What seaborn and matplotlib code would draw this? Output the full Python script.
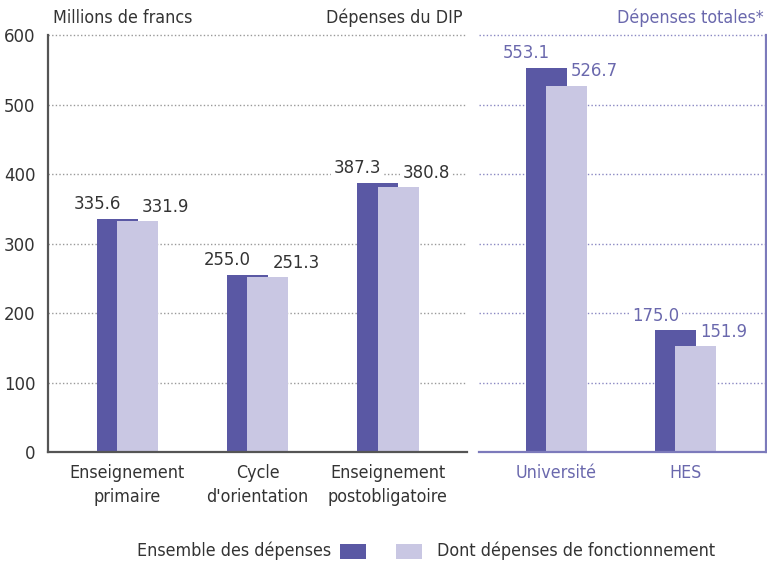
import numpy as np
import pandas as pd
import matplotlib
matplotlib.use("Agg")
import matplotlib.pyplot as plt
import seaborn as sns
from matplotlib.patches import Rectangle

# ---- data ----
cats_dip = ["Enseignement\nprimaire", "Cycle\nd'orientation", "Enseignement\npostobligatoire"]
total_dip = [335.6, 255.0, 387.3]
fonct_dip = [331.9, 251.3, 380.8]

cats_tot = ["Université", "HES"]
total_tot = [553.1, 175.0]
fonct_tot = [526.7, 151.9]

yticks = [0, 100, 200, 300, 400, 500, 600]

# ---- style ----
sns.set_theme(style="white")
FONT = ["DejaVu Sans"]
plt.rcParams["font.family"] = FONT
plt.rcParams["font.stretch"] = "condensed"

DARK = "#5a58a4"
LIGHT = "#c9c7e3"
GREY_TXT = "#333333"
PURP_TXT = "#6a68ad"
PURP_LINE = "#7c7abb"

FS = 12.8

W, H = 767, 564
fig = plt.figure(figsize=(W / 100, H / 100), dpi=100)

YMAX = 605
px_per_unit = (452 - 35) / 600.0
top_px = 452 - YMAX * px_per_unit

def axrect(x0, x1):
    return [x0 / W, 1 - 452 / H, (x1 - x0) / W, (452 - top_px) / H]

ax1 = fig.add_axes(axrect(48, 467))
ax2 = fig.add_axes(axrect(479, 766))

BW = 0.315
OFF_D = -0.077
OFF_L = 0.08

def draw(ax, cats, tot, fon, xlim, txtcol, gridcol, spinecol):
    n = len(cats)
    sns.barplot(x=cats, y=tot, color=DARK, width=BW, saturation=1, ax=ax,
                linewidth=0, errorbar=None)
    sns.barplot(x=cats, y=fon, color=LIGHT, width=BW, saturation=1, ax=ax,
                linewidth=0, errorbar=None)
    for p in ax.patches[:n]:
        p.set_x(p.get_x() + OFF_D)
    for p in ax.patches[n:2 * n]:
        p.set_x(p.get_x() + OFF_L)
    ax.set_xlim(*xlim)
    ax.set_ylim(0, YMAX)
    ax.set_yticks(yticks)
    for v in yticks[1:]:
        ax.axhline(v, color=gridcol, lw=1.0, ls=(0, (1, 1.6)), zorder=0)
    for i in range(n):
        ax.annotate(f"{tot[i]:.1f}", (i + OFF_D - 0.155, tot[i]), xytext=(0, 4),
                    textcoords="offset points", ha="center", va="bottom",
                    color=txtcol, fontsize=FS + 0.4,
                    bbox=dict(boxstyle="square,pad=0.15", fc="white", ec="none"))
        ax.annotate(f"{fon[i]:.1f}", (i + OFF_L + 0.215, fon[i]), xytext=(0, 4),
                    textcoords="offset points", ha="center", va="bottom",
                    color=txtcol, fontsize=FS + 0.4,
                    bbox=dict(boxstyle="square,pad=0.15", fc="white", ec="none"))
    ax.tick_params(axis="both", length=0)
    ax.tick_params(axis="x", pad=9, labelsize=FS, labelcolor=txtcol)
    for s in ax.spines.values():
        s.set_visible(False)
    ax.spines["bottom"].set_visible(True)
    ax.spines["bottom"].set_color(spinecol)
    ax.spines["bottom"].set_linewidth(1.6)
    ax.set_xlabel("")
    ax.set_ylabel("")
    ax.patch.set_alpha(0)

draw(ax1, cats_dip, total_dip, fonct_dip, (-0.61, 2.61), GREY_TXT, "#999999", "#555555")
draw(ax2, cats_tot, total_tot, fonct_tot, (-0.60, 1.624), PURP_TXT, "#8a88c2", PURP_LINE)

ax1.spines["left"].set_visible(True)
ax1.spines["left"].set_color("#555555")
ax1.spines["left"].set_linewidth(1.6)
ax1.spines["left"].set_bounds(0, 600)
ax1.tick_params(axis="y", labelsize=FS + 0.4, labelcolor=GREY_TXT, pad=9)

ax2.set_yticklabels([])
ax2.spines["right"].set_visible(True)
ax2.spines["right"].set_color(PURP_LINE)
ax2.spines["right"].set_linewidth(1.6)
ax2.spines["right"].set_bounds(0, 600)

for lbl in ax1.get_xticklabels() + ax2.get_xticklabels():
    lbl.set_linespacing(1.4)

# headers
fig.text(53 / W, 1 - 18 / H, "Millions de francs", ha="left", va="center",
         fontsize=FS, color=GREY_TXT)
fig.text(463 / W, 1 - 18 / H, "Dépenses du DIP", ha="right", va="center",
         fontsize=FS, color=GREY_TXT)
fig.text(764 / W, 1 - 18 / H, "Dépenses totales*", ha="right", va="center",
         fontsize=FS, color=PURP_TXT)

# legend
ly = 1 - 551 / H
fig.text(331 / W, ly, "Ensemble des dépenses", ha="right", va="center",
         fontsize=FS, color=GREY_TXT)
fig.patches.append(Rectangle((340 / W, ly - 7.5 / H), 26 / W, 15 / H,
                             transform=fig.transFigure, fc=DARK, ec="none"))
fig.patches.append(Rectangle((396 / W, ly - 7.5 / H), 26 / W, 15 / H,
                             transform=fig.transFigure, fc=LIGHT, ec="none"))
fig.text(437 / W, ly, "Dont dépenses de fonctionnement", ha="left", va="center",
         fontsize=FS, color=GREY_TXT)

fig.savefig("out.png", dpi=100, facecolor="white")
